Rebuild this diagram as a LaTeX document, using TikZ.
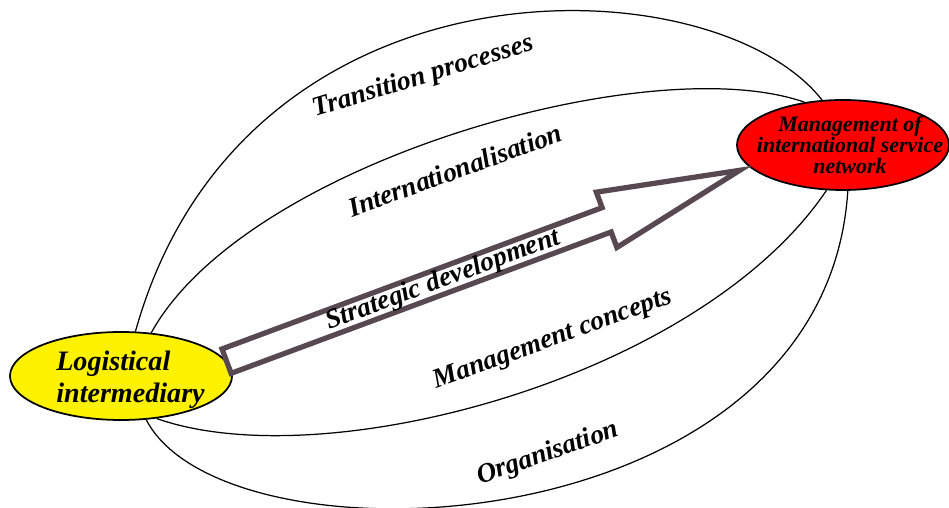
\documentclass[tikz,border=0pt]{standalone}
\usepackage{fontspec}
\setmainfont{Liberation Serif}
\usetikzlibrary{shapes.geometric}
\definecolor{arrowgray}{RGB}{88,72,82}

\begin{document}
\begin{tikzpicture}[
  pole/.style={ellipse, draw=black, line width=1pt, inner sep=0pt},
  polelabel/.style={font=\fontsize{16}{18}\selectfont\bfseries\itshape, inner sep=0pt},
  curvelabel/.style={font=\fontsize{15.5}{18}\selectfont\bfseries\itshape, inner sep=0pt},
  meridian/.style={line width=0.7pt},
  bigarrow/.style={draw=arrowgray, line width=3pt, fill=white, line join=miter}]
 \useasboundingbox (0,0) rectangle (18.98,10.16);

 % the two poles
 \node[pole, fill=yellow, minimum width=4.44cm, minimum height=1.76cm] (yel) at (2.42,2.64) {};
 \node[pole, fill=red, minimum width=4.24cm, minimum height=1.80cm] (red) at (16.86,7.26) {};
 \node[polelabel, align=left] at (2.61,2.57) {Logistical\\intermediary};
 \node[font=\fontsize{12.5}{12}\selectfont\bfseries\itshape, align=center, inner sep=0pt] at (17.0,7.26)
   {Management of\\international service\\network};

 % meridians between the poles
 \draw[meridian] (yel.72) .. controls (4.86,11.24) and (14.27,10.93) .. (red.115);
 \draw[meridian] (yel.55) .. controls (4.9,6.9) and (13.0,9.2) .. (red.132);
 \draw[meridian] (yel.310) .. controls (6.5,0.6) and (14.0,2.6) .. (red.250);
 \draw[meridian] (yel.300) .. controls (4.5,-1.3) and (16.5,-0.8) .. (red.276);

 \node[curvelabel, rotate=17] at (8.46,8.62) {Transition processes};
 \node[curvelabel, rotate=20] at (9.10,6.76) {Internationalisation};
 \node[curvelabel, rotate=20] at (11.06,3.36) {Management concepts};
 \node[curvelabel, rotate=19] at (10.96,1.08) {Organisation};

 % strategic development arrow
 \begin{scope}[shift={(yel.8)}, rotate=20.4]
  \draw[bigarrow] (0,0.26) -- (8.11,0.26) -- (8.11,0.59) -- (10.95,0) -- (8.11,-0.59) -- (8.11,-0.26) -- (0,-0.26) -- cycle;
 \end{scope}
 \path (yel.8) -- (red.193) node[curvelabel, pos=0.415, sloped] {Strategic development};
\end{tikzpicture}
\end{document}
